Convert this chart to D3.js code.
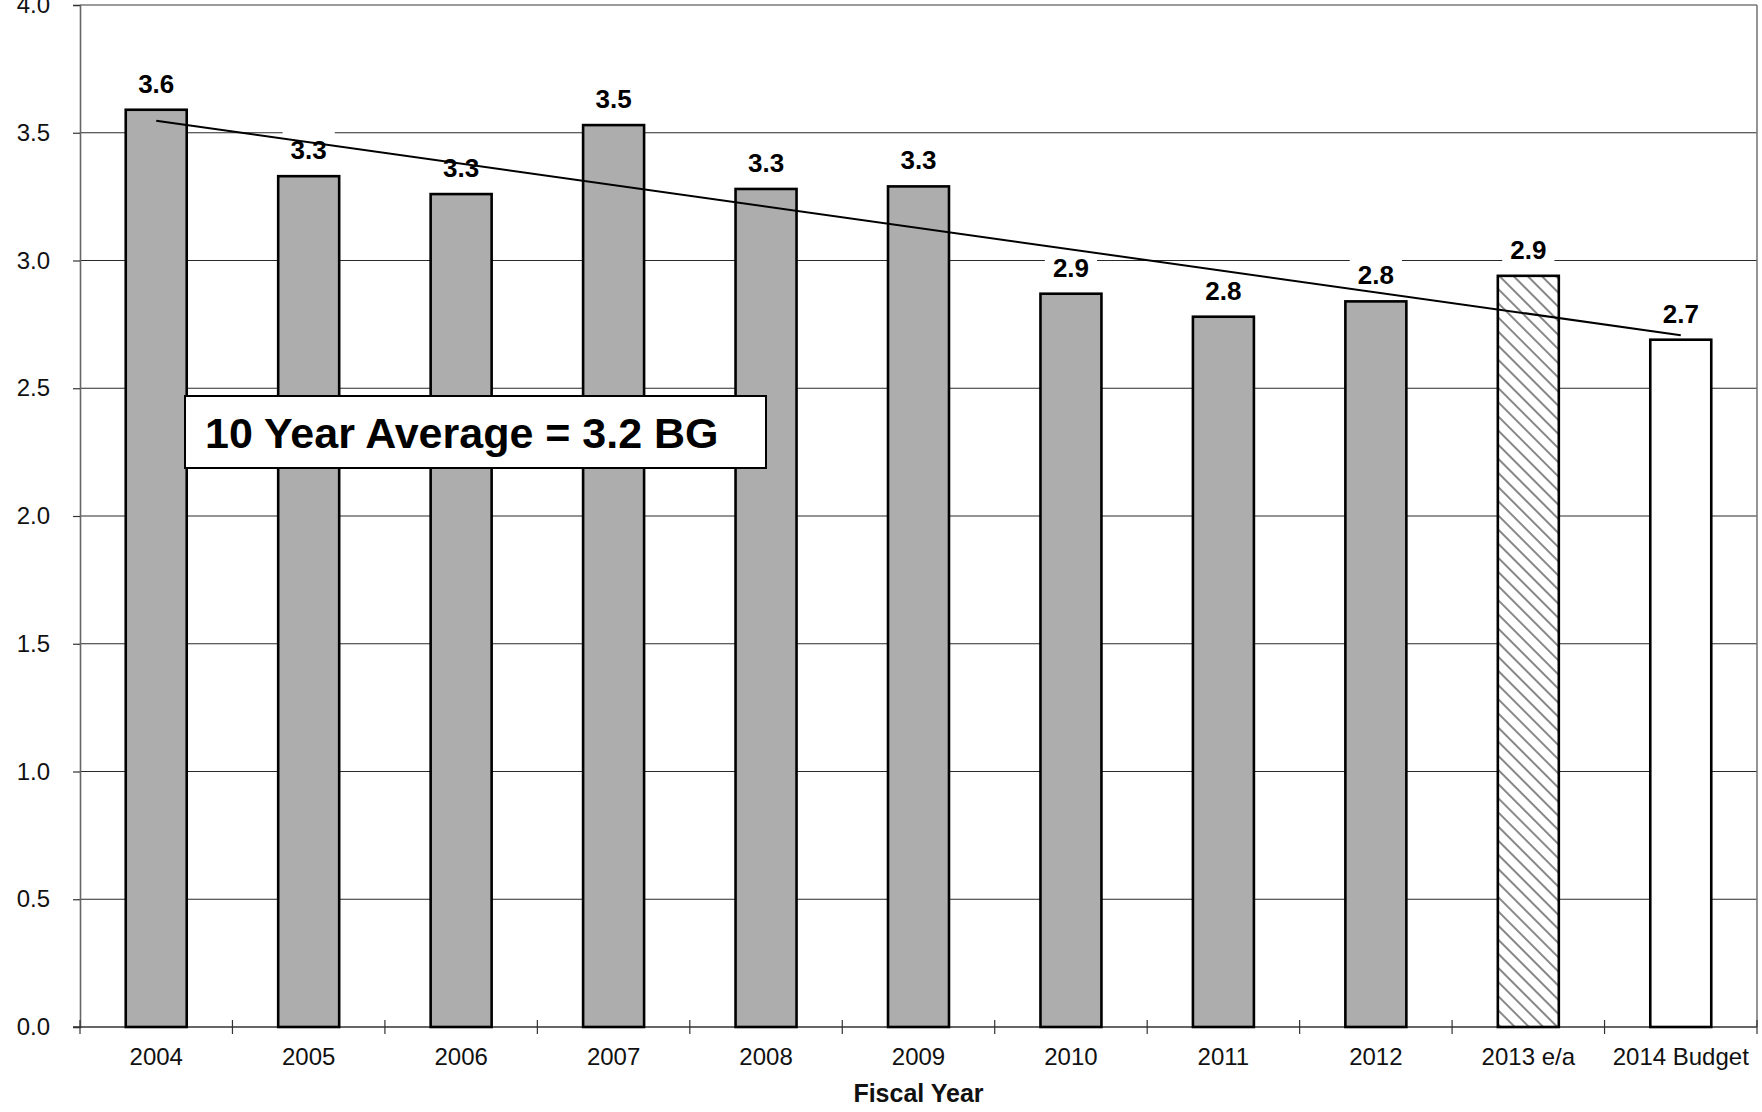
<!DOCTYPE html>
<html>
<head>
<meta charset="utf-8">
<script src="https://cdn.jsdelivr.net/npm/d3@7"></script>
<style>
  html, body { margin: 0; padding: 0; background: #fff; }
  svg { display: block; font-family: "Liberation Sans", Arial, Helvetica, sans-serif; }
</style>
</head>
<body>
<svg id="chart" width="1762" height="1112"></svg>
<script>
// Fiscal years and annual totals (billion gallons)
const years = ["2004", "2005", "2006", "2007", "2008", "2009", "2010", "2011", "2012", "2013 e/a", "2014 Budget"];
const totals = [3.59, 3.33, 3.26, 3.53, 3.28, 3.29, 2.87, 2.78, 2.84, 2.94, 2.69];
// How each bar is filled: actual, estimate/actual, budget
const barKinds = ["actual", "actual", "actual", "actual", "actual", "actual", "actual", "actual", "actual", "estimate", "budget"];
const yTicks = [0, 0.5, 1.0, 1.5, 2.0, 2.5, 3.0, 3.5, 4.0];
const averageNote = "10 Year Average = 3.2 BG";
const xTitle = "Fiscal Year";

const svg = d3.select("#chart");
const plot = { left: 80, right: 1757, top: 5, bottom: 1027 };

const x = d3.scaleBand()
  .domain(years)
  .range([plot.left, plot.right])
  .paddingInner(0.6)
  .paddingOuter(0.3);
const step = x.step();

const y = d3.scaleLinear().domain([0, 4]).range([plot.bottom, plot.top]);

// patterns
const defs = svg.append("defs");
const hatch = defs.append("pattern")
  .attr("id", "hatch")
  .attr("patternUnits", "userSpaceOnUse")
  .attr("width", 10).attr("height", 10)
  .attr("patternTransform", "rotate(-45)");
hatch.append("rect").attr("width", 10).attr("height", 10).attr("fill", "#fff");
hatch.append("line")
  .attr("x1", 5).attr("y1", 0).attr("x2", 5).attr("y2", 10)
  .attr("stroke", "#6a6a6a").attr("stroke-width", 1.6);

const fillFor = k => k === "actual" ? "#adadad" : k === "estimate" ? "url(#hatch)" : "#ffffff";

// horizontal gridlines
svg.append("g")
  .selectAll("line")
  .data(yTicks.filter(t => t > 0))
  .join("line")
  .attr("x1", plot.left).attr("x2", plot.right)
  .attr("y1", d => y(d)).attr("y2", d => y(d))
  .attr("stroke", d => d === 4 ? "#7a7a7a" : "#2a2a2a")
  .attr("stroke-width", d => d === 4 ? 1.6 : 1.2);

// right frame edge
svg.append("line")
  .attr("x1", plot.right).attr("x2", plot.right)
  .attr("y1", plot.top).attr("y2", plot.bottom)
  .attr("stroke", "#7a7a7a").attr("stroke-width", 1.6);

// y axis
const yAxis = svg.append("g")
  .attr("transform", `translate(${plot.left},0)`)
  .call(d3.axisLeft(y).tickValues(yTicks).tickFormat(d3.format(".1f")).tickSize(7).tickPadding(23));
yAxis.select(".domain").attr("stroke", "#666").attr("stroke-width", 1.6);
yAxis.selectAll(".tick line").attr("stroke", "#333").attr("stroke-width", 1.2);
yAxis.selectAll(".tick text")
  .attr("font-size", 24).attr("fill", "#111")
  .attr("font-family", "'Liberation Sans', Arial, sans-serif");

// x axis with ticks at category boundaries
const xAxisG = svg.append("g");
xAxisG.append("line")
  .attr("x1", plot.left - 7).attr("x2", plot.right)
  .attr("y1", plot.bottom).attr("y2", plot.bottom)
  .attr("stroke", "#333").attr("stroke-width", 1.6);
const boundaries = years.map(d => x(d) - step * x.paddingInner() / 2).concat([plot.right]);
xAxisG.selectAll("line.tk")
  .data(boundaries)
  .join("line").attr("class", "tk")
  .attr("x1", d => d).attr("x2", d => d)
  .attr("y1", plot.bottom - 7).attr("y2", plot.bottom + 7)
  .attr("stroke", "#333").attr("stroke-width", 1.2);
xAxisG.selectAll("text")
  .data(years)
  .join("text")
  .attr("x", d => x(d) + x.bandwidth() / 2)
  .attr("y", 1065)
  .attr("text-anchor", "middle")
  .attr("font-size", 24)
  .attr("fill", "#111")
  .text(d => d);

svg.append("text")
  .attr("x", (plot.left + plot.right) / 2)
  .attr("y", 1102)
  .attr("text-anchor", "middle")
  .attr("font-size", 25)
  .attr("font-weight", "bold")
  .attr("fill", "#111")
  .text(xTitle);

// bars
const data = years.map((d, i) => ({ year: d, value: totals[i], kind: barKinds[i] }));
svg.append("g")
  .selectAll("rect")
  .data(data)
  .join("rect")
  .attr("x", d => x(d.year))
  .attr("width", x.bandwidth())
  .attr("y", d => y(d.value))
  .attr("height", d => y(0) - y(d.value))
  .attr("fill", d => fillFor(d.kind))
  .attr("stroke", "#000")
  .attr("stroke-width", 2.6);

// value labels on a white ground
const fmt = d3.format(".1f");
const labels = svg.append("g").selectAll("g")
  .data(data)
  .join("g")
  .attr("transform", d => `translate(${x(d.year) + x.bandwidth() / 2},${y(d.value) - 17})`);
labels.append("rect").attr("class", "bg").attr("fill", "#fff");
labels.append("text")
  .attr("text-anchor", "middle")
  .attr("font-size", 26)
  .attr("font-weight", "bold")
  .attr("fill", "#000")
  .text(d => fmt(d.value));
labels.each(function () {
  const g = d3.select(this);
  const b = g.select("text").node().getBBox();
  g.select("rect.bg")
    .attr("x", b.x - 8).attr("y", b.y - 4)
    .attr("width", b.width + 16).attr("height", b.height + 8);
});

// linear trend (least squares over the bar values)
const idx = d3.range(totals.length);
const mx = d3.mean(idx), my = d3.mean(totals);
const slope = d3.sum(idx, i => (i - mx) * (totals[i] - my)) / d3.sum(idx, i => (i - mx) ** 2);
const trendAt = i => my + slope * (i - mx);
const trend = [0, totals.length - 1].map(i => ({ year: years[i], value: trendAt(i) }));
svg.append("path")
  .datum(trend)
  .attr("fill", "none")
  .attr("stroke", "#000")
  .attr("stroke-width", 2)
  .attr("d", d3.line().x(d => x(d.year) + x.bandwidth() / 2).y(d => y(d.value)));

// average note box
const note = svg.append("g");
note.append("rect")
  .attr("x", 185).attr("y", 396)
  .attr("width", 581).attr("height", 72)
  .attr("fill", "#fff").attr("stroke", "#000").attr("stroke-width", 2);
note.append("text")
  .attr("x", 205).attr("y", 448)
  .attr("font-size", 43)
  .attr("font-weight", "bold")
  .attr("fill", "#000")
  .text(averageNote);
</script>
</body>
</html>
